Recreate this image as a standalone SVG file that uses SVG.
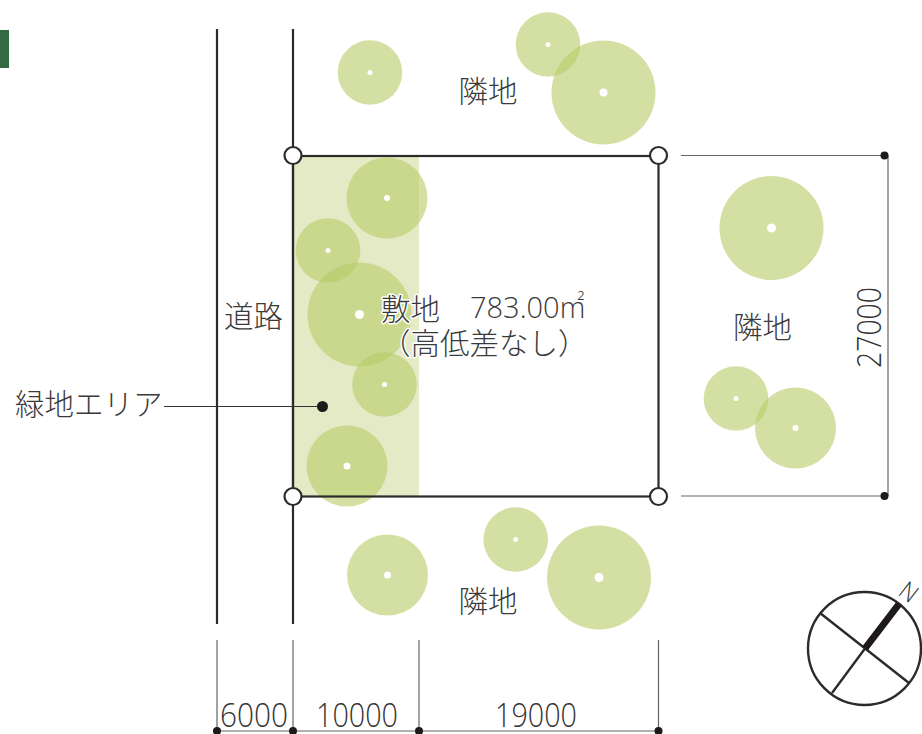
<svg xmlns="http://www.w3.org/2000/svg" width="922" height="734" viewBox="0 0 922 734">
<style>
text{font-family:"Noto Sans CJK JP","Noto Sans",sans-serif;font-weight:300;font-size:29.500px;fill:#3a3a3a}
.n{font-family:"Open Sans","Noto Sans",sans-serif;font-weight:300;font-size:32.500px;fill:#333}
.h{paint-order:stroke;stroke:#fff;stroke-width:3px;stroke-linejoin:round}
.road{stroke:#2b2b2b;stroke-width:2.2;fill:none}
.dim{stroke:#666;stroke-width:1.2;fill:none}
.thin{stroke:#333;stroke-width:1.1;fill:none}
.tree{fill:#b8cc66;fill-opacity:.6}
.core{fill:#fff}
.dot{fill:#1e1a1a}
.corner{fill:#fff;stroke:#2b2b2b;stroke-width:2.2}
</style>
<rect width="922" height="734" fill="#fff"/>
<rect id="tab" x="0" y="30" width="9" height="38" fill="#336a41"/>
<g id="green-area"><rect x="293" y="156" width="126" height="340" fill="#e4eac5"/></g>
<g id="trees">
<g id="t1"><circle class="tree" cx="370" cy="72.500" r="32.300"/><circle class="core" cx="370" cy="72.500" r="2.500"/></g>
<g id="t2"><circle class="tree" cx="548" cy="44.500" r="32.300"/><circle class="core" cx="548" cy="44.500" r="2.500"/></g>
<g id="t3"><circle class="tree" cx="603.500" cy="92.500" r="52"/><circle class="core" cx="603.500" cy="92.500" r="4"/></g>
<g id="t4"><circle class="tree" cx="387" cy="198" r="40.500"/><circle class="core" cx="387" cy="198" r="3"/></g>
<g id="t5"><circle class="tree" cx="328" cy="250.500" r="32.300"/><circle class="core" cx="328" cy="250.500" r="2.500"/></g>
<g id="t6"><circle class="tree" cx="359.500" cy="314.500" r="52"/><circle class="core" cx="359.500" cy="314.500" r="4.500"/></g>
<g id="t7"><circle class="tree" cx="384.500" cy="384.500" r="32.300"/><circle class="core" cx="384.500" cy="384.500" r="2.500"/></g>
<g id="t8"><circle class="tree" cx="347" cy="466" r="40.500"/><circle class="core" cx="347" cy="466" r="3.500"/></g>
<g id="t9"><circle class="tree" cx="771.500" cy="228" r="52"/><circle class="core" cx="771.500" cy="228" r="4.500"/></g>
<g id="t10"><circle class="tree" cx="736" cy="398.500" r="32.300"/><circle class="core" cx="736" cy="398.500" r="2.500"/></g>
<g id="t11"><circle class="tree" cx="795.500" cy="428" r="40.500"/><circle class="core" cx="795.500" cy="428" r="3"/></g>
<g id="t12"><circle class="tree" cx="387.500" cy="575" r="40.500"/><circle class="core" cx="387.500" cy="575" r="3.500"/></g>
<g id="t13"><circle class="tree" cx="515.700" cy="539.500" r="32.300"/><circle class="core" cx="515.700" cy="539.500" r="2.500"/></g>
<g id="t14"><circle class="tree" cx="599" cy="577.500" r="52"/><circle class="core" cx="599" cy="577.500" r="4.500"/></g>
</g>
<g id="connectors">
<path class="road" d="M217 29V624M293 29V624"/>
<rect class="road" x="293" y="156" width="365.500" height="340.500"/>
<path class="dim" d="M217 640V731M293 640V731M419 640V731M658.500 640V731M217 731H658.500"/>
<path class="dim" d="M681 155.500H885M681 496H885M888 155.500V496"/>
<path class="thin" d="M164 406.500H322"/>
</g>
<g id="corners">
<circle class="corner" cx="293" cy="155.500" r="8.500"/>
<circle class="corner" cx="658.500" cy="155.500" r="8.500"/>
<circle class="corner" cx="293" cy="496.500" r="8.500"/>
<circle class="corner" cx="658.500" cy="496.500" r="8.500"/>
</g>
<g id="dots">
<circle class="dot" cx="322.500" cy="406.500" r="5.500"/>
<circle class="dot" cx="884.500" cy="155.500" r="4"/>
<circle class="dot" cx="884.500" cy="496" r="4"/>
<circle class="dot" cx="217" cy="731" r="4"/>
<circle class="dot" cx="293" cy="731" r="4"/>
<circle class="dot" cx="419" cy="731" r="4"/>
<circle class="dot" cx="658.500" cy="731" r="4"/>
</g>
<g id="labels">
<text x="458.500" y="102">隣地</text>
<text x="733" y="338">隣地</text>
<text x="458.500" y="612">隣地</text>
<text x="224" y="327">道路</text>
<text x="15" y="415">緑地エリア</text>
<text class="h" x="381" y="320">敷地</text>
<text class="h" x="470" y="318" style="font-family:'Open Sans',sans-serif;font-size:29px">783.00m<tspan dx="-8" dy="-9" style="font-size:21px">²</tspan></text>
<text class="h" x="381" y="353.500">（高低差なし）</text>
<text class="n" x="220" y="727" textLength="68" lengthAdjust="spacingAndGlyphs">6000</text>
<text class="n" x="316" y="727" textLength="82" lengthAdjust="spacingAndGlyphs">10000</text>
<text class="n" x="495" y="727" textLength="82" lengthAdjust="spacingAndGlyphs">19000</text>
<text class="n" transform="translate(881 368) rotate(-90)" textLength="81" lengthAdjust="spacingAndGlyphs">27000</text>
</g>
<g id="compass">
<circle cx="864.500" cy="648.500" r="56.500" fill="#fff" stroke="#2b2b2b" stroke-width="2.400"/>
<path d="M820 613L909 683M832 693L865 648.500" stroke="#2b2b2b" stroke-width="2.400" fill="none"/>
<path d="M865 648.500L899 604" stroke="#1e1a1a" stroke-width="7" fill="none"/>
<text transform="translate(897 594) rotate(38) scale(.9 1)" style="font-family:'Open Sans',sans-serif;font-size:25px;fill:#333">N</text>
</g>
</svg>
